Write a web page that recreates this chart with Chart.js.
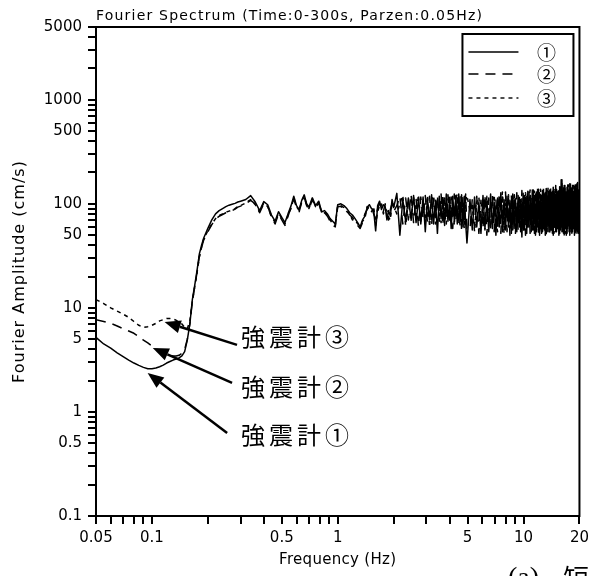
<!DOCTYPE html>
<html>
<head>
<meta charset="utf-8">
<script src="https://cdn.jsdelivr.net/npm/chart.js@4"></script>
<style>
  body { margin: 0; background: #fff; }
  #wrap { width: 594px; height: 576px; }
</style>
</head>
<body>
<div id="wrap"><canvas id="spectrum" width="594" height="576"></canvas></div>
<script>
// frequency (Hz), shared by the three records
const freq = [
  0.05, 0.055, 0.06, 0.065, 0.07, 0.075, 0.08, 0.085, 0.09, 0.095,
  0.1, 0.105, 0.11, 0.115, 0.12, 0.125, 0.13, 0.135, 0.14, 0.145,
  0.15, 0.155, 0.16, 0.165, 0.17, 0.175, 0.18, 0.185, 0.19, 0.2,
  0.21, 0.22, 0.23, 0.24, 0.25, 0.26, 0.27, 0.28, 0.29, 0.3,
  0.32, 0.34, 0.36, 0.38, 0.4, 0.42, 0.44, 0.46, 0.48, 0.5,
  0.52, 0.54, 0.56, 0.58, 0.6, 0.62, 0.64, 0.66, 0.68, 0.7,
  0.73, 0.76, 0.79, 0.82, 0.85, 0.88, 0.91, 0.94, 0.97, 1.0,
  1.04, 1.08, 1.12, 1.16, 1.2, 1.24, 1.28, 1.32, 1.36, 1.4,
  1.44, 1.48, 1.52, 1.56, 1.6, 1.64, 1.68, 1.72, 1.76, 1.8,
  1.84, 1.88, 1.92, 1.96, 2.0,
  2.08, 2.16, 2.24, 2.32, 2.4, 2.48, 2.56, 2.64, 2.72, 2.8,
  2.88, 2.96, 3.04, 3.12, 3.2, 3.28, 3.36, 3.44, 3.52, 3.6,
  3.68, 3.76, 3.84, 3.92, 4.0, 4.08, 4.16, 4.24, 4.32, 4.4,
  4.48, 4.56, 4.64, 4.72, 4.8, 4.88, 4.96,
  5.15, 5.3, 5.45, 5.6, 5.75, 5.9, 6.05, 6.2, 6.35, 6.5,
  6.65, 6.8, 6.95, 7.1, 7.25, 7.4, 7.55, 7.7, 7.85, 8.0,
  8.15, 8.3, 8.45, 8.6, 8.75, 8.9, 9.05, 9.2, 9.35, 9.5,
  9.65, 9.8, 9.95, 10.1, 10.25, 10.4, 10.55, 10.7, 10.85, 11.0,
  11.15, 11.3, 11.45, 11.6, 11.75, 11.9, 12.05, 12.2, 12.35, 12.5,
  12.65, 12.8, 12.95, 13.1, 13.25, 13.4, 13.55, 13.7, 13.85, 14.0,
  14.15, 14.3, 14.45, 14.6, 14.75, 14.9, 15.05, 15.2, 15.35, 15.5,
  15.65, 15.8, 15.95, 16.1, 16.25, 16.4, 16.55, 16.7, 16.85, 17.0,
  17.15, 17.3, 17.45, 17.6, 17.75, 17.9, 18.05, 18.2, 18.35, 18.5,
  18.65, 18.8, 18.95, 19.1, 19.25, 19.4, 19.55, 19.7, 19.85, 20.0
];

// Fourier amplitude (cm/s), record 1 (solid)
const amp1 = [
  5.2, 4.5, 4.1, 3.7, 3.4, 3.15, 2.95, 2.8, 2.68, 2.6,
  2.6, 2.64, 2.72, 2.82, 2.95, 3.05, 3.15, 3.22, 3.3, 3.45,
  3.8, 4.9, 7.0, 12, 16.5, 23, 33, 40, 47, 58,
  70, 80, 86, 90, 94, 97, 99, 101, 104, 106,
  110, 120, 104, 86, 105, 98, 78, 68, 84, 74,
  66, 80, 95, 118, 96, 88, 108, 122, 100, 93,
  114, 96, 106, 84, 86, 80, 72, 68, 64, 98,
  100, 96, 90, 82, 78, 72, 66, 60, 70, 76,
  92, 98, 90, 88, 55, 96, 106, 88, 98, 94,
  70, 86, 76, 110, 92,
  126, 50, 110, 68, 114, 72, 120, 66, 112, 64,
  116, 54, 112, 70, 122, 64, 108, 52, 118, 72,
  114, 62, 124, 68, 110, 58, 118, 70, 120, 64,
  124, 68, 116, 60, 118, 66, 42,
  110, 56, 116, 60, 104, 52, 120, 58, 108, 54,
  124, 58, 104, 50, 114, 60, 128, 54, 110, 56,
  118, 60, 108, 52, 124, 58, 112, 54, 120, 60,
  110, 48, 126, 58, 116, 52, 132, 60, 118, 54,
  136, 56, 120, 50, 130, 60, 138, 54, 122, 52,
  134, 58, 124, 50, 140, 60, 120, 54, 136, 56,
  128, 52, 144, 60, 124, 54, 138, 58, 132, 50,
  146, 60, 170, 54, 134, 52, 150, 58, 128, 50,
  144, 62, 136, 54, 156, 58, 140, 52, 150, 60,
  132, 50, 152, 56, 140, 52, 160, 58, 136, 90
];

// record 2 (long dash)
const amp2 = [
  7.7, 7.4, 7.1, 6.7, 6.3, 6.0, 5.7, 5.3, 4.9, 4.6,
  4.3, 4.05, 3.85, 3.7, 3.6, 3.5, 3.45, 3.45, 3.5, 3.65,
  4.0, 5.0, 7.0, 11.5, 16, 22, 31, 38, 45, 54,
  63, 71, 76, 79, 82, 84, 86, 89, 93, 95,
  100, 108, 100, 82, 100, 95, 74, 64, 80, 70,
  62, 76, 92, 112, 92, 84, 104, 116, 96, 88,
  110, 92, 102, 80, 82, 76, 68, 62, 60, 94,
  94, 90, 86, 78, 74, 68, 62, 58, 66, 80,
  88, 94, 96, 80, 72, 90, 100, 92, 84, 100,
  78, 70, 88, 100, 84,
  96, 118, 64, 114, 70, 124, 66, 112, 60, 116,
  72, 120, 66, 118, 62, 112, 74, 120, 68, 124,
  62, 114, 72, 122, 64, 116, 58, 124, 68, 114,
  62, 120, 56, 118, 70, 124, 58,
  56, 112, 60, 118, 52, 108, 58, 122, 50, 114,
  60, 120, 54, 110, 58, 126, 52, 116, 60, 130,
  54, 114, 50, 122, 58, 118, 52, 128, 56, 110,
  58, 134, 52, 120, 50, 126, 58, 130, 52, 116,
  60, 136, 52, 124, 56, 140, 50, 128, 58, 120,
  54, 142, 58, 128, 50, 134, 60, 124, 52, 146,
  56, 132, 50, 138, 60, 150, 54, 128, 58, 140,
  50, 136, 60, 156, 54, 132, 48, 148, 58, 138,
  52, 152, 58, 134, 50, 158, 60, 142, 54, 128,
  58, 150, 50, 140, 60, 156, 54, 136, 52, 120
];

// record 3 (short dash)
const amp3 = [
  12, 11, 10, 9.3, 8.7, 8.1, 7.4, 6.8, 6.5, 6.6,
  6.8, 7.1, 7.5, 7.7, 7.9, 7.9, 7.8, 7.6, 7.3, 7.0,
  6.5, 6.3, 7.5, 11.5, 16, 22, 31, 38, 46, 55,
  64, 72, 77, 80, 83, 85, 87, 90, 94, 96,
  102, 110, 98, 84, 102, 94, 76, 66, 82, 72,
  64, 78, 90, 114, 94, 86, 106, 118, 98, 90,
  112, 94, 104, 82, 84, 78, 70, 64, 62, 96,
  96, 92, 84, 80, 70, 70, 64, 62, 68, 72,
  94, 90, 84, 94, 62, 84, 96, 100, 80, 90,
  86, 74, 70, 104, 96,
  80, 100, 120, 62, 104, 68, 116, 78, 122, 68,
  104, 64, 120, 60, 108, 120, 64, 110, 80, 66,
  118, 82, 64, 110, 122, 68, 106, 62, 112, 124,
  74, 62, 122, 76, 58, 108, 120,
  86, 96, 54, 104, 116, 62, 98, 56, 118, 90,
  58, 106, 122, 66, 54, 110, 92, 130, 52, 100,
  86, 122, 58, 104, 56, 128, 92, 60, 100, 118,
  54, 112, 90, 56, 128, 96, 58, 110, 136, 86,
  56, 112, 132, 90, 54, 116, 98, 50, 138, 104,
  60, 122, 56, 100, 130, 54, 144, 96, 58, 118,
  56, 106, 134, 52, 142, 110, 60, 100, 56, 126,
  90, 56, 148, 112, 86, 150, 60, 106, 52, 124,
  100, 56, 152, 114, 62, 130, 54, 110, 90, 158,
  58, 124, 88, 54, 152, 110, 60, 132, 52, 104
];

const seriesNames = ['①', '②', '③'];

const xTicks = [0.05, 0.06, 0.07, 0.08, 0.09, 0.1, 0.2, 0.3, 0.4, 0.5, 0.6, 0.7, 0.8, 0.9,
  1, 2, 3, 4, 5, 6, 7, 8, 9, 10, 20];
const xLabels = [0.05, 0.1, 0.5, 1, 5, 10, 20];
const yTicks = [0.1, 0.2, 0.3, 0.4, 0.5, 0.6, 0.7, 0.8, 0.9, 1, 2, 3, 4, 5, 6, 7, 8, 9,
  10, 20, 30, 40, 50, 60, 70, 80, 90, 100, 200, 300, 400, 500, 600, 700, 800, 900,
  1000, 2000, 3000, 4000, 5000];
const yLabels = [0.1, 0.5, 1, 5, 10, 50, 100, 500, 1000, 5000];

const chartTitle = 'Fourier Spectrum (Time:0-300s, Parzen:0.05Hz)';
const xTitle = 'Frequency (Hz)';
const yTitle = 'Fourier Amplitude (cm/s)';

// callouts, in data coordinates (Hz, cm/s)
const noteText = ['強震計③', '強震計②', '強震計①'];
const noteAt = [[0.302, 5.26], [0.302, 1.74], [0.302, 0.60]];
const arrowFrom = [[0.287, 4.41], [0.27, 1.9], [0.254, 0.628]];
const arrowTo = [[0.117, 7.33], [0.101, 4.12], [0.0948, 2.37]];

const dashes = [[], [10, 7], [4, 4]];

function pts(arr) {
  return freq.map((f, i) => ({ x: f, y: arr[i] }));
}

function hasValue(list, v) {
  return list.some(l => Math.abs(l - v) < 1e-9);
}

function drawArrow(ctx, x0, y0, x1, y1) {
  const ang = Math.atan2(y1 - y0, x1 - x0);
  const len = 16, half = 6.5;
  const bx = x1 - len * Math.cos(ang);
  const by = y1 - len * Math.sin(ang);
  ctx.lineWidth = 2.5;
  ctx.beginPath();
  ctx.moveTo(x0, y0);
  ctx.lineTo(bx, by);
  ctx.stroke();
  ctx.beginPath();
  ctx.moveTo(x1, y1);
  ctx.lineTo(bx + half * Math.sin(ang), by - half * Math.cos(ang));
  ctx.lineTo(bx - half * Math.sin(ang), by + half * Math.cos(ang));
  ctx.closePath();
  ctx.fill();
}

const decor = {
  id: 'decor',
  afterDraw(chart) {
    const { ctx, chartArea: a, scales } = chart;
    const sx = scales.x, sy = scales.y;
    ctx.save();
    ctx.strokeStyle = '#000';
    ctx.fillStyle = '#000';

    // frame
    ctx.lineWidth = 2;
    ctx.strokeRect(a.left, a.top, a.right - a.left, a.bottom - a.top);

    // titles
    ctx.font = '14px "DejaVu Sans"';
    ctx.textAlign = 'left';
    ctx.textBaseline = 'middle';
    ctx.letterSpacing = '1.2px';
    ctx.fillText(chartTitle, a.left, a.top - 11);

    ctx.font = '15px "DejaVu Sans"';
    ctx.letterSpacing = '0.3px';
    ctx.textAlign = 'center';
    ctx.fillText(xTitle, (a.left + a.right) / 2, 560);

    ctx.save();
    ctx.translate(20, (a.top + a.bottom) / 2);
    ctx.rotate(-Math.PI / 2);
    ctx.font = '16px "DejaVu Sans"';
    ctx.letterSpacing = '1px';
    ctx.fillText(yTitle, 0, 0);
    ctx.restore();
    ctx.letterSpacing = '0px';

    // legend box
    const lx = a.right - 117, ly = a.top + 7;
    ctx.lineWidth = 2;
    ctx.strokeRect(lx, ly, 111, 82);
    const rows = [18, 40, 64];
    chart.data.datasets.forEach((ds, i) => {
      const yy = ly + rows[i];
      ctx.lineWidth = 1.4;
      ctx.setLineDash(ds.borderDash);
      ctx.beginPath();
      ctx.moveTo(lx + 6, yy);
      ctx.lineTo(lx + 56, yy);
      ctx.stroke();
      ctx.setLineDash([]);
      ctx.font = '19px "Noto Sans CJK JP"';
      ctx.textAlign = 'center';
      ctx.fillText(ds.label, lx + 84, yy + 1);
    });

    // callouts
    ctx.font = '24px "Noto Sans CJK JP"';
    ctx.textAlign = 'left';
    noteText.forEach((t, i) => {
      const tx = sx.getPixelForValue(noteAt[i][0]);
      const ty = sy.getPixelForValue(noteAt[i][1]);
      Array.from(t).forEach((ch, k) => ctx.fillText(ch, tx + k * 28, ty));
      drawArrow(ctx,
        sx.getPixelForValue(arrowFrom[i][0]), sy.getPixelForValue(arrowFrom[i][1]),
        sx.getPixelForValue(arrowTo[i][0]), sy.getPixelForValue(arrowTo[i][1]));
    });

    // caption fragment cut by the page edge
    ctx.textBaseline = 'alphabetic';
    ctx.font = '28px "Liberation Serif"';
    ctx.fillText('(a)', 508, 586);
    ctx.font = '26px "Noto Sans CJK JP"';
    ctx.fillText('短', 563, 588);
    ctx.restore();
  }
};

Chart.defaults.font.family = '"DejaVu Sans"';
Chart.defaults.font.size = 15;
Chart.defaults.color = '#000';

const ctx = document.getElementById('spectrum').getContext('2d');
const spectrumChart = new Chart(ctx, {
  type: 'line',
  data: {
    datasets: [amp1, amp2, amp3].map((arr, i) => ({
      label: seriesNames[i],
      data: pts(arr),
      borderColor: '#000',
      borderWidth: 1.5,
      borderDash: dashes[i],
      borderJoinStyle: 'round',
      pointRadius: 0,
      tension: 0,
      fill: false
    }))
  },
  options: {
    responsive: false,
    animation: false,
    layout: { padding: { top: 27, right: 11, left: 0, bottom: 0 } },
    plugins: {
      legend: { display: false },
      title: { display: false },
      tooltip: { enabled: false }
    },
    scales: {
      x: {
        type: 'logarithmic',
        min: 0.05,
        max: 20,
        afterFit: s => { s.height = 60; },
        afterBuildTicks: s => { s.ticks = xTicks.map(v => ({ value: v })); },
        border: { display: false },
        grid: { drawOnChartArea: false, drawTicks: true, tickLength: 8, color: '#000', lineWidth: 2 },
        ticks: {
          autoSkip: false,
          maxRotation: 0,
          padding: 5,
          callback: v => hasValue(xLabels, v) ? String(v) : ''
        }
      },
      y: {
        type: 'logarithmic',
        min: 0.1,
        max: 5000,
        afterFit: s => { s.width = 96; },
        afterBuildTicks: s => { s.ticks = yTicks.map(v => ({ value: v })); },
        border: { display: false },
        grid: { drawOnChartArea: false, drawTicks: true, tickLength: 8, color: '#000', lineWidth: 2 },
        ticks: {
          autoSkip: false,
          padding: 6,
          callback: v => hasValue(yLabels, v) ? String(v) : ''
        }
      }
    }
  },
  plugins: [decor]
});
</script>
</body>
</html>
